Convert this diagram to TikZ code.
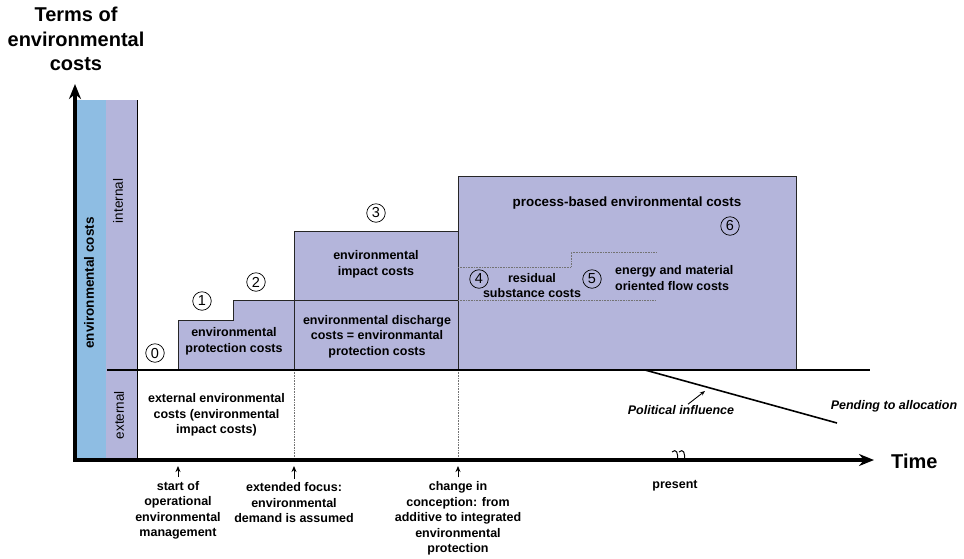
\documentclass[tikz,border=0pt]{standalone}
\usepackage{fontspec}
\setmainfont{Liberation Sans}
\usetikzlibrary{arrows.meta,positioning}
\definecolor{stripblue}{HTML}{8EBDE3}
\definecolor{costlav}{HTML}{B4B5DB}

\begin{document}
\begin{tikzpicture}[
  x=1pt, y=-1pt,
  every node/.style={font=\bfseries\fontsize{12.5}{15.5}\selectfont, align=center, inner sep=0pt},
  costbox/.style={fill=costlav, draw=black!85, line width=0.8pt},
  stagemark/.style={circle, draw, line width=0.7pt, minimum size=18.5pt, font=\fontsize{14.5}{14.5}\selectfont},
  guide/.style={densely dotted, black!55, line width=0.6pt},
  tickarrow/.style={-{Stealth[length=6pt,width=5pt]}, line width=0.9pt},
  sidelabel/.style={rotate=90, font=\fontsize{13.5}{14}\selectfont},
]
\useasboundingbox (0,0) rectangle (964,558);
\pgfmathsetmacro{\base}{370}  % internal/external border
\pgfmathsetmacro{\axisy}{460} % time axis

% Side strips
\fill[stripblue] (76,100) rectangle (106,\axisy);
\fill[costlav] (106,100) rectangle (137,\axisy);
\draw[line width=0.8pt] (137,100) -- (137,\axisy);
\node[sidelabel, font=\bfseries\fontsize{13.5}{14}\selectfont] (envcosts) at (89,283) {environmental costs};
\node[sidelabel] (internal) at (118,201) {internal};
\node[sidelabel] (external) at (119,415) {external};

% Cost blocks
\draw[costbox] (178,\base) -- (178,320) -- (233,320) -- (233,300) -- (294,300) -- (294,\base);
\draw[costbox] (294,\base) rectangle (458,231);
\draw[black!85, line width=0.8pt] (294,300) -- (458,300);
\draw[costbox] (458,\base) rectangle (796,176);

% Dotted steps inside the process block
\draw[guide] (458,300) -- (656,300);
\draw[guide] (458,267) -- (571,267) -- (571,252) -- (656,252);

% Dotted guides down to the time axis
\draw[guide] (294,\base) -- (294,\axisy);
\draw[guide] (458,\base) -- (458,\axisy);

% Internal/external border and allocation line
\draw[line width=2.2pt] (107,\base) -- (870,\base);
\coordinate (polA) at (645,\base);
\coordinate (polB) at (837,423);
\draw[line width=1.6pt] (polA) -- (polB);

% Axes
\draw[line width=3.5pt, -{Stealth[length=15pt,width=12pt]}] (75,{\axisy+1.75}) -- (75,84);
\draw[line width=3.5pt, -{Stealth[length=15pt,width=12pt]}] (73.25,\axisy) -- (874,\axisy);
% axis break
\draw[line width=1pt] (672,452) .. controls (676,448) and (679,453) .. (677,461);
\draw[line width=1pt] (679,452) .. controls (683,448) and (686,453) .. (684,461);

% Block texts
\node (protect) at (234,341.5) {environmental\\protection costs};
\node (impact) at (376,264.5) {environmental\\impact costs};
\node (discharge) at (377,336.5) {environmental discharge\\costs = environmantal\\protection costs};
\node[font=\bfseries\fontsize{13.4}{16}\selectfont] (process) at (627,203) {process-based environmental costs};
\node (residual) at (532,285.5) {residual\\substance costs};
\node[anchor=west, align=left] (flow) at (615,278) {energy and material\\oriented flow costs};
\node (extcosts) at (216.5,415) {external environmental\\costs (environmental\\impact costs)};

% Stage marks
\foreach \n/\x/\y in {0/155/353, 1/202/301, 2/256/282, 3/376/213, 4/479/279, 5/592/279, 6/730/226} {
  \node[stagemark] (stage\n) at (\x,\y) {\n};
}

% Time axis labels
\node (start) at (178,510.5) {start of\\operational\\environmental\\management};
\node (extended) at (294,503) {extended focus:\\environmental\\demand is assumed};
\node (change) at (458,518.5) {change in\\conception: from\\additive to integrated\\environmental\\protection};
\node (present) at (675,486) {present};
\coordinate (t1) at (178,466);
\coordinate (t2) at (294,466);
\coordinate (t3) at (458,466);
\draw[tickarrow, shorten <=4pt] (start.north) -- (t1);
\draw[tickarrow, shorten <=4pt] (extended.north) -- (t2);
\draw[tickarrow, shorten <=4pt] (change.north) -- (t3);

% Political influence
\node[font=\bfseries\itshape\fontsize{12.5}{15}\selectfont] (polinf) at (681,410) {Political influence};
\node[font=\bfseries\itshape\fontsize{12.5}{15}\selectfont] (pending) at (894,406) {Pending to allocation};
\coordinate (polhit) at (705,391);
\draw[tickarrow, -{Stealth[length=5pt,width=4pt]}] ([xshift=7pt,yshift=1pt]polinf.north) -- (polhit);

% Axis titles
\node[font=\bfseries\fontsize{20}{24.5}\selectfont] (title) at (76,39) {Terms of\\environmental\\costs};
\node[anchor=west, font=\bfseries\fontsize{20}{24}\selectfont] (time) at (891,461) {Time};

\end{tikzpicture}
\end{document}
